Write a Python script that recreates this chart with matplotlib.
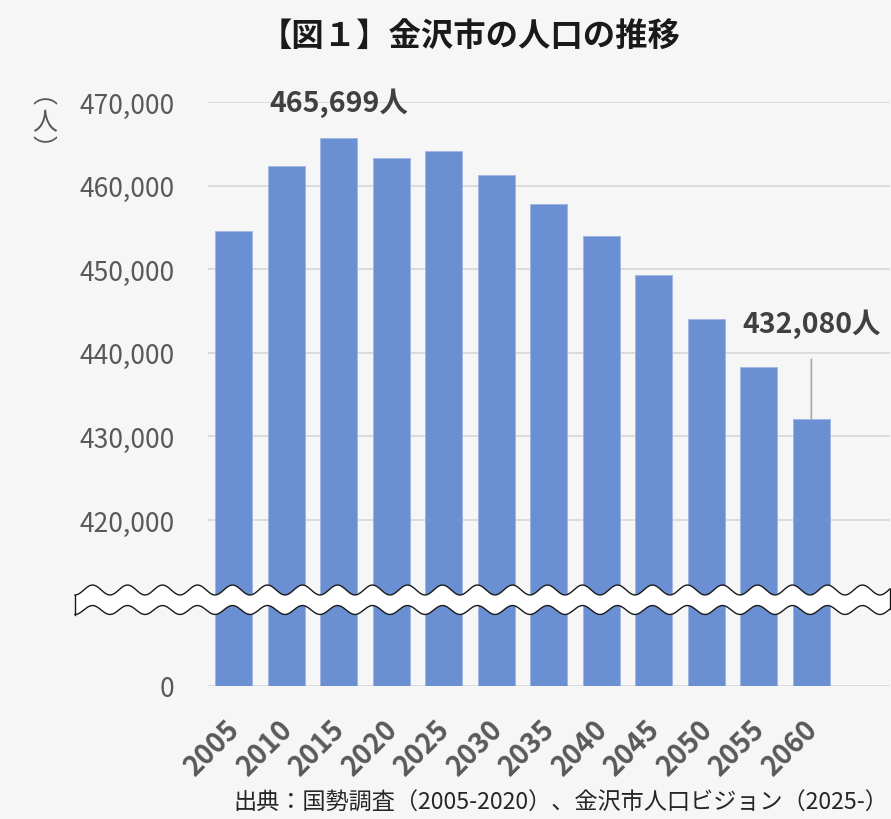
import numpy as np
import matplotlib
matplotlib.use("Agg")
import matplotlib.pyplot as plt
from matplotlib.patches import Polygon
from matplotlib.transforms import ScaledTranslation

plt.rcParams['font.family'] = ['Noto Sans CJK JP', 'DejaVu Sans']

# Data
years = ["2005", "2010", "2015", "2020", "2025", "2030",
         "2035", "2040", "2045", "2050", "2055", "2060"]
population = [454607, 462361, 465699, 463254, 464100, 461300,
              457800, 454000, 449300, 444000, 438300, 432080]
yticks = [0, 420000, 430000, 440000, 450000, 460000, 470000]

title = "【図１】金沢市の人口の推移"
source = "出典：国勢調査（2005-2020）、金沢市人口ビジョン（2025-）"

bg = "#f6f6f6"
bar_color = "#6a8fd2"
grid_color = "#d9d9d9"
tick_color = "#595959"

# Broken axis: compress 0..410000 into a small strip
BREAK = 410000
LOW = 9850.0


def fwd(v):
    v = np.asarray(v, dtype=float)
    return np.where(v >= BREAK, v - BREAK + LOW, v * LOW / BREAK)


def inv(u):
    u = np.asarray(u, dtype=float)
    return np.where(u >= LOW, u - LOW + BREAK, u * BREAK / LOW)


fig = plt.figure(figsize=(8.91, 8.20), dpi=100, facecolor=bg)
ax = fig.add_axes([0.233, 1 - 687 / 820, 0.766, (687 - 103) / 820])
ax.set_facecolor(bg)
ax.set_yscale('function', functions=(fwd, inv))

x = np.arange(len(years))
ax.bar(x, population, width=0.7, color=bar_color, edgecolor="#9fb5e2",
       linewidth=0.6, zorder=3)

ax.set_ylim(0, 470000)
ax.set_xlim(-0.5, 12.5)
ax.set_yticks(yticks)
ax.set_yticklabels([f"{v:,}" for v in yticks])
ax.grid(axis='y', color=grid_color, linewidth=1.3, zorder=0)
ax.set_axisbelow(True)
for s in ax.spines.values():
    s.set_visible(False)
ax.tick_params(axis='y', length=0, pad=24, labelsize=19, labelcolor=tick_color)
ax.tick_params(axis='x', length=0, pad=6)
ax.set_xticks(x)
ax.set_xticklabels(years, rotation=45, ha='right', va='center',
                   rotation_mode='anchor', fontsize=20, fontweight='bold',
                   color=tick_color)
shift = ScaledTranslation(2 / 100, -30 / 100, fig.dpi_scale_trans)
for lab in ax.get_xticklabels():
    lab.set_transform(lab.get_transform() + shift)

# Annotations
i_max = int(np.argmax(population))
ax.annotate(f"{population[i_max]:,}人", xy=(x[i_max], 470000),
            xytext=(0, 0), textcoords='offset points',
            ha='center', va='center', fontsize=20.5, fontweight='bold',
            color="#404040", annotation_clip=False)
i_last = len(population) - 1
ax.annotate(f"{population[i_last]:,}人", xy=(x[i_last], population[i_last]),
            xytext=(x[i_last], 443500), textcoords='data',
            ha='center', va='center', fontsize=20.5, fontweight='bold',
            color="#404040",
            arrowprops=dict(arrowstyle='-', color="#a6a6a6", lw=1.2,
                            shrinkA=13, shrinkB=0))

# Axis break (wavy white band)
W, H = 891.0, 820.0
xs = np.linspace(75, 890, 400)
top_wave = 591 + 5 * np.cos(2 * np.pi * (xs - 75) / 35)
bot_wave = 611 + 4.5 * np.cos(2 * np.pi * (xs - 75) / 35)
pts = np.concatenate([np.column_stack([xs, top_wave]),
                      np.column_stack([xs[::-1], bot_wave[::-1]])])
pts_fig = np.column_stack([pts[:, 0] / W, 1 - pts[:, 1] / H])
fig.patches.append(Polygon(pts_fig, closed=True, facecolor='white',
                           edgecolor='none', transform=fig.transFigure,
                           zorder=10))
fig.lines.append(plt.Line2D(xs / W, 1 - top_wave / H, color='#1a1a1a',
                            lw=1.0, transform=fig.transFigure, zorder=11))
fig.lines.append(plt.Line2D(xs / W, 1 - bot_wave / H, color='#1a1a1a',
                            lw=1.0, transform=fig.transFigure, zorder=11))
for k in (0, -1):
    fig.lines.append(plt.Line2D([xs[k] / W, xs[k] / W],
                                [1 - top_wave[k] / H, 1 - bot_wave[k] / H],
                                color='#1a1a1a', lw=1.0,
                                transform=fig.transFigure, zorder=11))

# Texts
fig.text(470 / W, 1 - 36 / H, title, ha='center', va='center', fontsize=23.3,
         fontweight='bold', color='#1a1a1a')
fig.text(45 / W, 1 - 123 / H, "︵\n人\n︶", ha='center', va='center',
         fontsize=18, color=tick_color, linespacing=1.05)
fig.text(888 / W, 1 - 803 / H, source, ha='right', va='center',
         fontsize=16.7, color='#262626')

fig.savefig("out.png", dpi=100, facecolor=bg)
